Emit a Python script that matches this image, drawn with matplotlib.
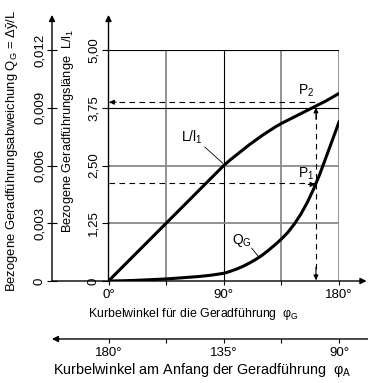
import matplotlib
matplotlib.use("Agg")
import matplotlib.pyplot as plt

plt.rcParams['font.family'] = ['Liberation Sans', 'DejaVu Sans']
plt.rcParams['mathtext.fontset'] = 'custom'
plt.rcParams['mathtext.rm'] = 'Liberation Sans'
plt.rcParams['mathtext.it'] = 'Liberation Sans'
plt.rcParams['mathtext.default'] = 'regular'

# Kurvendaten
phi_L = [0, 45, 90, 95, 100, 105, 110, 115, 120, 125, 130, 135, 140, 145,
         150, 155, 160, 165, 170, 175, 180]
L_l1 = [0, 1.25, 2.5, 2.62, 2.73, 2.84, 2.95, 3.05, 3.15, 3.24, 3.33, 3.41,
        3.48, 3.55, 3.62, 3.69, 3.76, 3.83, 3.90, 3.98, 4.06]

phi_Q = [0, 10, 20, 30, 40, 50, 60, 70, 80, 90, 95, 100, 105, 110, 115, 120,
         125, 130, 135, 140, 145, 150, 155, 160, 165, 170, 175, 180]
Q_G = [0, 0.00001, 0.00003, 0.00006, 0.00009, 0.00013, 0.00018, 0.00023,
       0.0003, 0.0004, 0.0005, 0.00062, 0.00076, 0.00093, 0.00112, 0.00134,
       0.0016, 0.00188, 0.00218, 0.00252, 0.00295, 0.00345, 0.00405, 0.00475,
       0.00555, 0.00645, 0.00735, 0.00826]

# Achsenbeschriftungen
L_ticks = [0, 1.25, 2.5, 3.75, 5.0]
L_labels = ['0', '1,25', '2,50', '3,75', '5,00']
Q_ticks = [0, 0.003, 0.006, 0.009, 0.012]
Q_labels = ['0', '0,003', '0,006', '0,009', '0,012']
phiG_ticks = [0, 45, 90, 135, 180]
phiG_labels = ['0°', '', '90°', '', '180°']
phiA_ticks = [180, 157.5, 135, 112.5, 90]
phiA_labels = ['180°', '', '135°', '', '90°']

# Ablesepunkte P1, P2
phi_P = 162
L_P2 = 3.87
L_P1 = 2.12

fs = 9.5
fig = plt.figure(figsize=(3.68, 3.83), dpi=100)
ax = fig.add_axes([108.5 / 368, 1 - 281 / 383, 230.5 / 368, 231 / 383])
ax.set_xlim(0, 180)
ax.set_ylim(0, 5)
ax2 = ax.twinx()
ax2.set_ylim(0, 0.012)

for a in (ax, ax2):
    for s in a.spines.values():
        s.set_visible(False)

# Gitter
gray = '#8a8a8a'
for x, c in zip([45, 90, 135, 180], [gray, 'k', gray, gray]):
    ax.axvline(x, color=c, lw=1.3 if c == gray else 0.8, zorder=1)
for y, c in zip([1.25, 2.5, 3.75, 5.0], [gray, gray, 'k', 'k']):
    ax.axhline(y, color=c, lw=1.3 if c == gray else 0.8, zorder=1)

# Achsen mit Pfeilen
arr = dict(arrowstyle='-|>', lw=1.0, color='k', mutation_scale=9, shrinkA=0, shrinkB=0)
x_q = -56.5 / 230.5 * 180
ax.annotate('', xy=(0, 5.76), xytext=(0, 0), arrowprops=arr, annotation_clip=False)
ax.annotate('', xy=(x_q, 5.76), xytext=(x_q, 0), arrowprops=arr, annotation_clip=False)
ax.annotate('', xy=(201.5, 0), xytext=(x_q, 0), arrowprops=arr, annotation_clip=False)
ax.annotate('', xy=(-44.2, -1.255), xytext=(205, -1.255), arrowprops=arr, annotation_clip=False)

# Ticks
ax.set_yticks(L_ticks, L_labels)
ax.tick_params(axis='y', direction='out', length=5, width=0.8, pad=1.5,
               labelsize=fs, labelrotation=90)
for t in ax.get_yticklabels():
    t.set_va('center')

ax2.yaxis.set_ticks_position('left')
ax2.spines['left'].set_position(('axes', -56.5 / 230.5))
ax2.set_yticks(Q_ticks, Q_labels)
ax2.tick_params(axis='y', direction='inout', length=7, width=0.8, pad=1.0,
                labelsize=fs, labelrotation=90)
for t in ax2.get_yticklabels():
    t.set_va('center')

ax.set_xticks(phiG_ticks, phiG_labels)
ax.tick_params(axis='x', direction='out', length=3, width=0.8, pad=2.5, labelsize=fs)

secx = ax.secondary_xaxis(-58 / 231, functions=(lambda x: 180 - x / 2, lambda a: 2 * (180 - a)))
secx.spines['bottom'].set_visible(False)
secx.set_xticks(phiA_ticks, phiA_labels)
secx.tick_params(direction='out', length=3, width=0.8, pad=2.5, labelsize=fs)

# Kurven
ax.plot(phi_L, L_l1, color='k', lw=2.2, zorder=3)
ax2.plot(phi_Q, Q_G, color='k', lw=2.2, zorder=3)

# Ablese-Hilfslinien
dash = dict(color='k', lw=0.8, ls=(0, (5, 4)))
ax.plot([0, phi_P], [L_P2, L_P2], **dash)
ax.plot([phi_P, phi_P], [0.05, 3.65], **dash)
ax.plot([0, phi_P], [L_P1, L_P1], **dash)
small = dict(arrowstyle='-|>', lw=0.8, color='k', mutation_scale=7, shrinkA=0, shrinkB=0)
ax.annotate('', xy=(0.5, L_P2), xytext=(6, L_P2), arrowprops=small)
ax.annotate('', xy=(phi_P, 3.75), xytext=(phi_P, 3.5), arrowprops=small)
ax.annotate('', xy=(phi_P, 0.02), xytext=(phi_P, 0.3), arrowprops=small)
ax.annotate('', xy=(161.5, L_P1 - 0.03), xytext=(156, L_P1 - 0.03), arrowprops=small)

# Beschriftungen im Diagramm
ax.text(65, 3.1, 'L/l$_1$', fontsize=10, ha='center', va='center')
ax.plot([75.2, 89.2], [2.9, 2.55], color='k', lw=0.6)
ax2.text(104, 0.00208, 'Q$_G$', fontsize=10, ha='center', va='center')
ax2.plot([111.8, 117.3], [0.00171, 0.00125], color='k', lw=0.6)
ax.text(154, 4.11, 'P$_2$', fontsize=10, ha='center', va='center')
ax.text(154, 2.32, 'P$_1$', fontsize=10, ha='center', va='center')

# Achsentitel
fig.text(12 / 368, 1 - 151 / 383, 'Bezogene Geradführungsabweichung Q$_G$ = Δȳ/L',
         rotation=90, ha='center', va='center', fontsize=9.4)
fig.text(68 / 368, 1 - 131 / 383, 'Bezogene Geradführungslänge  L/l$_1$',
         rotation=90, ha='center', va='center', fontsize=9.2)
fig.text(193 / 368, 1 - 314 / 383, 'Kurbelwinkel für die Geradführung  φ$_G$',
         ha='center', va='center', fontsize=8.9)
fig.text(53 / 368, 1 - 370 / 383, 'Kurbelwinkel am Anfang der Geradführung  φ$_A$',
         ha='left', va='center', fontsize=10.4)

fig.savefig('out.png', dpi=100)
